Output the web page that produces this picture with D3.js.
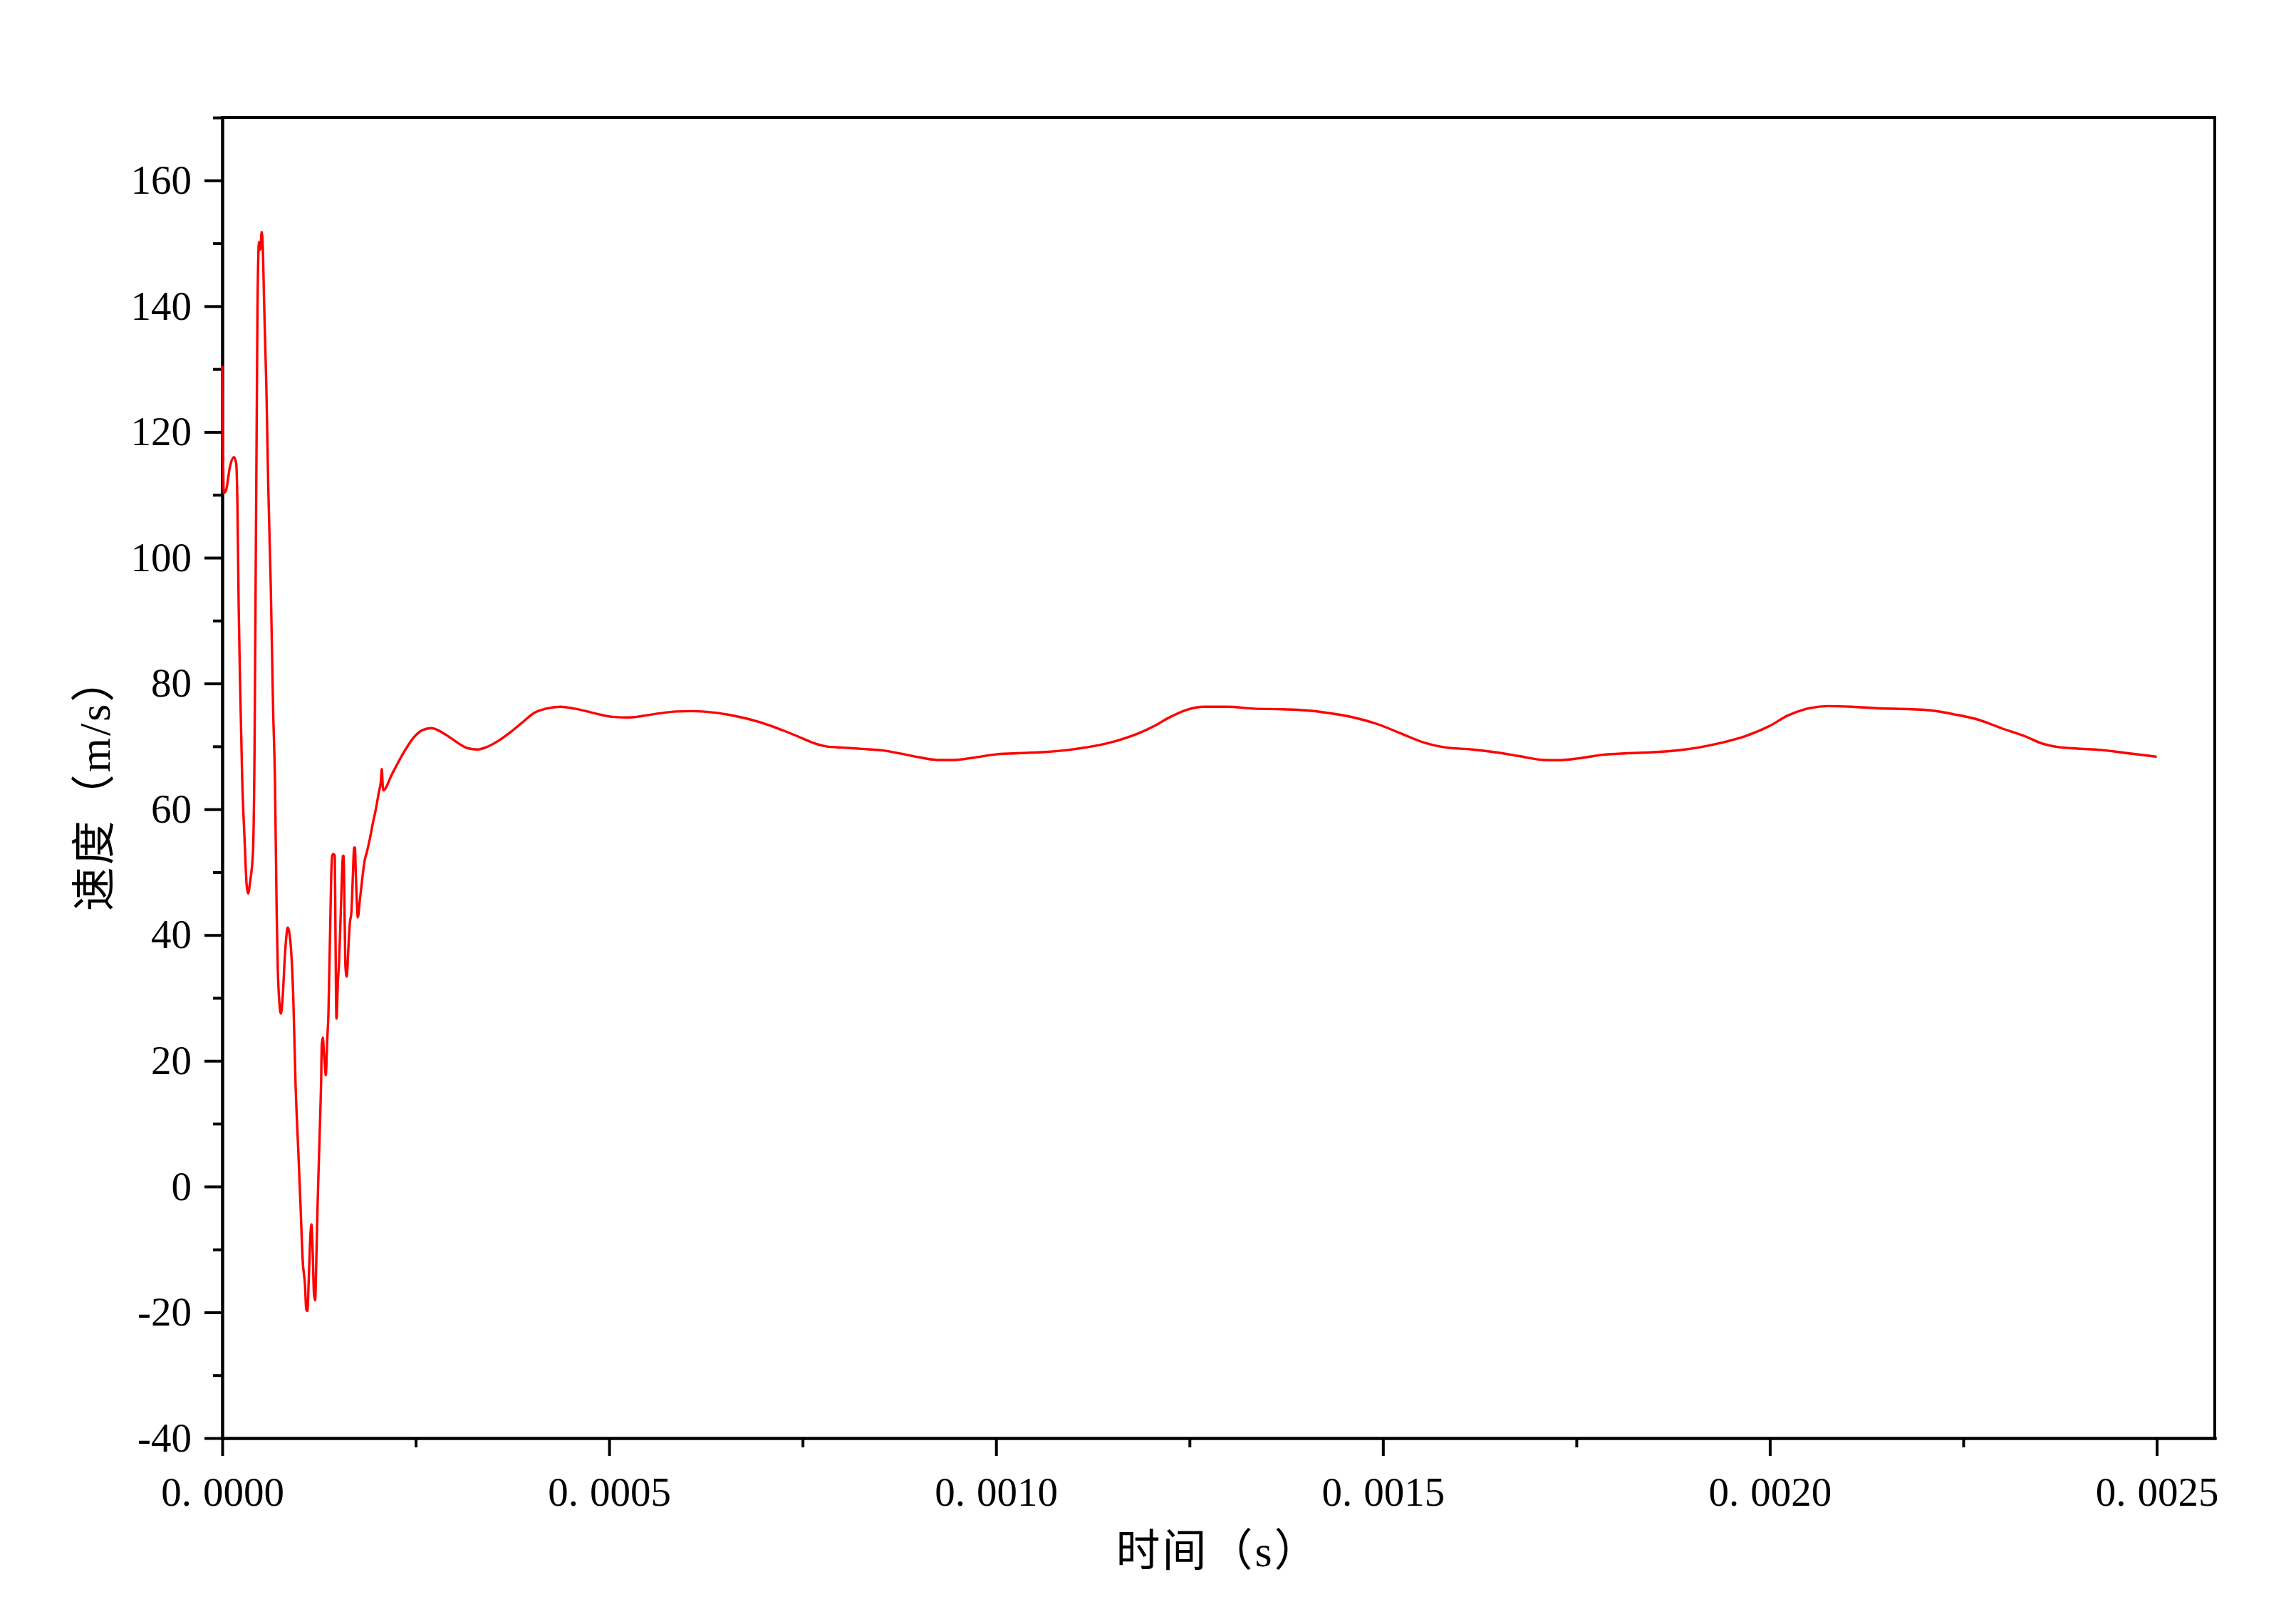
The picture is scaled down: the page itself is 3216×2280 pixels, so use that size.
<!DOCTYPE html>
<html>
<head>
<meta charset="utf-8">
<script src="https://cdn.jsdelivr.net/npm/d3@7"></script>
<style>
    body { margin: 0; background: #fff; }
    svg { display: block; }
    .title { text-spacing-trim: space-all; }
</style>
</head>
<body>
<div id="chart"></div>
<script>
// time of each sample, in microseconds
const timeUs = [
    0, 2, 5, 10, 15, 18, 19.6, 21.2, 23.3, 25.8, 28.8, 31.5, 33.4, 36, 39.6, 41.7, 43.3, 44.8, 45.5, 46.6,
    47.5, 49.0, 51.0, 52.5, 54.0, 55.5, 57.0, 59.5, 62.6, 65.7, 68.1, 70.3, 71.8, 74, 75.8, 78, 81, 83, 84.7, 86.5,
    88.7, 91.8, 94.8, 97.9, 101, 104, 107, 108.5, 110, 112, 113.8, 115.3, 117, 118.5, 120, 121.5, 123.3, 125.5, 127, 127.7,
    128.6, 130, 131.5, 132.5, 133.8, 135.6, 137.2, 138.4, 139.6, 140.8, 142, 143.3, 145.4, 146.1, 146.8, 147.6, 149.4, 151, 153.1, 154.6,
    156, 156.8, 158.3, 159.2, 160.8, 163.2, 164.8, 166.9, 168.7, 170.5, 171.5, 172.5, 173.7, 175.2, 177.6, 180.7, 183.8, 186.9, 190.9, 194.5,
    199.1, 202.2, 205, 206.2, 207.5, 208.3, 211.4, 217.5, 225, 234.4, 246.7, 259, 270, 274.3, 283.5, 295.8, 308, 317.3, 329.5, 341.8,
    357.1, 372.5, 387.8, 403, 418.5, 437, 455.3, 480, 504.4, 525.9, 556.6, 587.3, 608.7, 633.3, 664, 694.7, 725.3, 743.7, 762.2, 780.6,
    802, 826.6, 854.2, 878.8, 903.3, 924.8, 946.2, 970.8, 1001.5, 1032, 1063, 1093.5, 1124, 1155, 1185.6, 1204, 1222.4, 1247, 1268.4, 1299,
    1333, 1370, 1400, 1431, 1462, 1492, 1523, 1554, 1578, 1615, 1646, 1676, 1707, 1725, 1753, 1784, 1815, 1845, 1876, 1907,
    1937, 1968, 1999, 2023, 2045, 2075, 2106, 2137, 2183, 2207, 2238, 2269, 2299, 2330, 2352, 2373, 2398, 2428, 2459, 2500
];

// velocity at each sample, m/s
const velocity = [
    130.5, 110.3, 110.8, 114.5, 116.0, 115.0, 108.5, 92.3, 78.4, 64.6, 55.3, 48.0, 46.6, 48.5, 53.0, 69.2, 99.3, 127, 139, 148,
    150.2, 149, 151.8, 149, 141, 134, 127, 111, 96, 76, 64.6, 43.7, 34.5, 29, 27.5, 30, 36.8, 40, 41.2, 40.5,
    38, 30, 16, 6.7, -2.5, -11.8, -15.8, -19.5, -19.8, -14, -8, -6, -11, -17, -18.1, -12, -2.5, 6.7, 13.1, 16.2,
    22.6, 23.7, 21, 19.6, 17.7, 23.3, 27.5, 34.7, 41.8, 49.4, 52.5, 52.9, 52.6, 43.7, 33, 26.7, 32.4, 35.8, 43.4, 49.1,
    52.6, 52.6, 41.5, 35.0, 33.4, 38.4, 41.8, 43.7, 49.1, 53.9, 53.9, 50, 46.0, 42.8, 45.3, 48.7, 51.7, 53.2, 55.4, 57.7,
    60.4, 62.6, 64.5, 66.4, 63.5, 63.0, 63.4, 65.1, 66.9, 69, 71.3, 72.6, 72.9, 72.8, 72.26, 71.3, 70.26, 69.7, 69.5, 69.9,
    70.9, 72.26, 73.8, 75.3, 76.0, 76.3, 76.0, 75.3, 74.7, 74.6, 75.1, 75.55, 75.6, 75.4, 74.8, 73.85, 72.5, 71.6, 70.63, 70.0,
    69.8, 69.6, 69.35, 68.8, 68.2, 67.84, 67.84, 68.2, 68.75, 68.93, 69.1, 69.43, 70.0, 70.86, 72.15, 73.2, 74.5, 75.84, 76.3, 76.3,
    76.0, 75.9, 75.73, 75.28, 74.6, 73.58, 72.07, 70.56, 69.88, 69.5, 69.05, 68.45, 67.84, 67.8, 68.1, 68.67, 68.9, 69.05, 69.3, 69.8,
    70.56, 71.6, 73.2, 74.9, 75.9, 76.4, 76.3, 76.07, 75.9, 75.73, 75.1, 74.26, 72.9, 71.6, 70.44, 69.88, 69.65, 69.43, 68.97, 68.36
];

// tick values
const xMajorTicks = [0, 0.0005, 0.001, 0.0015, 0.002, 0.0025];
const xMinorTicks = [0.00025, 0.00075, 0.00125, 0.00175, 0.00225];
const yMajorTicks = [-40, -20, 0, 20, 40, 60, 80, 100, 120, 140, 160];
const yMinorTicks = [-30, -10, 10, 30, 50, 70, 90, 110, 130, 150, 170];

const xTitle = '时间（s）';
const yTitle = '速度（m/s）';

const W = 3216, H = 2280;
const margin = {top: 165, right: 107, bottom: 261, left: 312};
const fontNum = '"Liberation Serif", "DejaVu Serif", serif';
const fontCjk = '"Liberation Serif", "Noto Sans CJK SC", serif';

const svg = d3.select('#chart').append('svg')
    .attr('width', W)
    .attr('height', H)
    .attr('viewBox', `0 0 ${W} ${H}`);

svg.append('rect').attr('width', W).attr('height', H).attr('fill', '#fff');

// scales
const xScale = d3.scaleLinear()
    .domain([0, 0.002575])
    .range([margin.left, W - margin.right]);

const yScale = d3.scaleLinear()
    .domain([-40, 170])
    .range([H - margin.bottom, margin.top]);

//************** AXES ******************//
let styleAxis = (g) => {
    g.attr('font-family', fontNum).attr('font-size', 57);
    g.selectAll('path, line').attr('stroke', '#000').attr('stroke-width', 4);
    g.selectAll('.domain').attr('stroke-linecap', 'square');
    g.selectAll('text').attr('fill', '#000');
}

// minor ticks first, the major axis draws on top
svg.append('g')
    .attr('transform', `translate(0, ${yScale(-40)})`)
    .call(d3.axisBottom(xScale).tickValues(xMinorTicks).tickSize(13).tickSizeOuter(0).tickFormat(''))
    .call(styleAxis);

svg.append('g')
    .attr('transform', `translate(${xScale(0)}, 0)`)
    .call(d3.axisLeft(yScale).tickValues(yMinorTicks).tickSize(13).tickSizeOuter(0).tickFormat(''))
    .call(styleAxis);

const xAxis = svg.append('g')
    .attr('transform', `translate(0, ${yScale(-40)})`)
    .call(d3.axisBottom(xScale).tickValues(xMajorTicks).tickSize(25).tickPadding(30).tickSizeOuter(0)
        .tickFormat(d3.format('.4f')))
    .call(styleAxis);

// the original font leaves a wide gap after the decimal point
xAxis.selectAll('.tick text').each(function() {
    const label = d3.select(this);
    const parts = label.text().split('.');
    label.text(null);
    label.append('tspan').text(parts[0] + '.');
    label.append('tspan').attr('dx', 16).text(parts[1]);
});

svg.append('g')
    .attr('transform', `translate(${xScale(0)}, 0)`)
    .call(d3.axisLeft(yScale).tickValues(yMajorTicks).tickSize(25).tickPadding(18).tickSizeOuter(0)
        .tickFormat(d => String(d)))
    .call(styleAxis);

// top and right edges of the frame
const [x0, x1] = xScale.range();
const [y0, y1] = yScale.range();
svg.append('path')
    .attr('d', `M${x0},${y1}H${x1}V${y0}`)
    .attr('fill', 'none')
    .attr('stroke', '#000')
    .attr('stroke-width', 4)
    .attr('stroke-linecap', 'square');

// axis titles
svg.append('text')
    .attr('class', 'title')
    .attr('x', 1710)
    .attr('y', 2178)
    .attr('text-anchor', 'middle')
    .attr('dominant-baseline', 'central')
    .attr('font-family', fontCjk)
    .attr('font-size', 62)
    .attr('letter-spacing', 3)
    .text(xTitle);

svg.append('text')
    .attr('class', 'title')
    .attr('transform', 'translate(133, 1100) rotate(-90)')
    .attr('text-anchor', 'middle')
    .attr('dominant-baseline', 'central')
    .attr('font-family', fontCjk)
    .attr('font-size', 62)
    .attr('letter-spacing', 3)
    .text(yTitle);

//************* DRAWING *************//
const data = timeUs.map((t, i) => ({t: t * 1e-6, v: velocity[i]}));

const line = d3.line()
    .x(d => xScale(d.t))
    .y(d => yScale(d.v))
    .curve(d3.curveMonotoneX);

svg.append('path')
    .datum(data)
    .attr('d', line)
    .attr('fill', 'none')
    .attr('stroke', '#ff0000')
    .attr('stroke-width', 3.4)
    .attr('stroke-linejoin', 'round');
</script>
</body>
</html>
